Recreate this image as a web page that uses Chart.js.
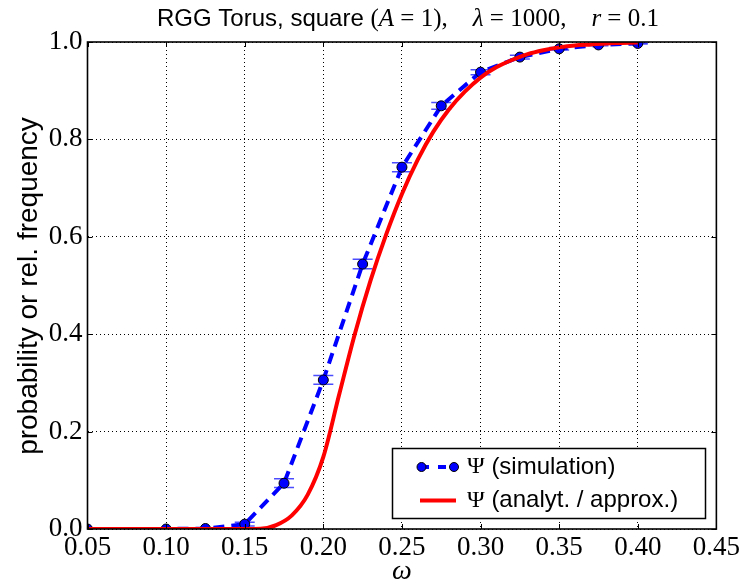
<!DOCTYPE html>
<html>
<head>
<meta charset="utf-8">
<script src="https://cdn.jsdelivr.net/npm/chart.js@4.4.0/dist/chart.umd.min.js"></script>
<style>
  html, body { margin: 0; padding: 0; background: #fff; }
  #wrap { width: 743px; height: 585px; }
</style>
</head>
<body>
<div id="wrap"><canvas id="c" width="743" height="585"></canvas></div>
<script>
// ---- data ----
const omegaSim = [0.05, 0.10, 0.125, 0.15, 0.175, 0.20, 0.225, 0.25, 0.275, 0.30, 0.325, 0.35, 0.375, 0.40];
const psiSim   = [0.0, 0.0, 0.001, 0.010, 0.094, 0.306, 0.544, 0.743, 0.869, 0.938, 0.969, 0.986, 0.994, 0.997];
const psiSimErr = [0.0, 0.0, 0.001, 0.004, 0.009, 0.009, 0.0097, 0.0093, 0.007, 0.005, 0.004, 0.0025, 0.0015, 0.001];

const omegaAnalyt = [0.05, 0.10, 0.15, 0.16, 0.17, 0.18, 0.19, 0.20, 0.21, 0.22, 0.23, 0.24, 0.25, 0.26, 0.27, 0.28, 0.29, 0.30, 0.31, 0.32, 0.33, 0.34, 0.35, 0.36, 0.37, 0.38, 0.39, 0.40];
const psiAnalyt   = [0.0, 0.0, 0.0, 0.0005, 0.008, 0.028, 0.07, 0.148, 0.275, 0.40, 0.51, 0.605, 0.688, 0.758, 0.816, 0.862, 0.898, 0.927, 0.948, 0.963, 0.975, 0.983, 0.989, 0.993, 0.995, 0.997, 0.998, 0.999];

const xTickLabels = ['0.05', '0.10', '0.15', '0.20', '0.25', '0.30', '0.35', '0.40', '0.45'];
const yTickLabels = ['0.0', '0.2', '0.4', '0.6', '0.8', '1.0'];

const titleParts = [
  ['RGG Torus, square ', 'sans'],
  ['(', 'serif'], ['A', 'ital'], [' = 1),    ', 'serif'],
  ['λ', 'ital'], [' = 1000,    ', 'serif'],
  ['r', 'ital'], [' = 0.1', 'serif']
];
const legendItems = ['(simulation)', '(analyt. / approx.)'];
const yAxisTitle = 'probability or rel. frequency';
const xAxisTitle = 'ω';

const simPts = omegaSim.map((x, i) => ({x: x, y: psiSim[i]}));
const anPts = omegaAnalyt.map((x, i) => ({x: x, y: psiAnalyt[i]}));

const SERIF = '"Liberation Serif", "DejaVu Serif", serif';
const SANS = '"Liberation Sans", Arial, sans-serif';

const fontFor = (kind, size) => kind === 'sans' ? `${size}px ${SANS}` : kind === 'ital' ? `italic ${size}px ${SERIF}` : `${size}px ${SERIF}`;

const decor = {
  id: 'decor',
  beforeDatasetsDraw(chart) {
    const ctx = chart.ctx, xs = chart.scales.x, ys = chart.scales.y, a = chart.chartArea;
    ctx.save();
    ctx.beginPath(); ctx.rect(a.left, a.top, a.right - a.left, a.bottom - a.top); ctx.clip();
    ctx.strokeStyle = 'rgba(0,0,255,0.7)';
    ctx.lineWidth = 1.5;
    omegaSim.forEach((w, i) => {
      const px = xs.getPixelForValue(w);
      const e = psiSimErr[i];
      [psiSim[i] - e, psiSim[i] + e].forEach(v => {
        const py = ys.getPixelForValue(v);
        ctx.beginPath(); ctx.moveTo(px - 10, py); ctx.lineTo(px + 10, py); ctx.stroke();
      });
      ctx.beginPath();
      ctx.moveTo(px, ys.getPixelForValue(psiSim[i] - e));
      ctx.lineTo(px, ys.getPixelForValue(psiSim[i] + e));
      ctx.stroke();
    });
    ctx.restore();
  },
  afterDraw(chart) {
    const ctx = chart.ctx, xs = chart.scales.x, ys = chart.scales.y, a = chart.chartArea;
    ctx.save();
    // inward ticks
    ctx.strokeStyle = '#000'; ctx.lineWidth = 1;
    xs.ticks.forEach(t => {
      const px = Math.round(xs.getPixelForValue(t.value)) + 0.5;
      ctx.beginPath(); ctx.moveTo(px, a.bottom); ctx.lineTo(px, a.bottom - 5);
      ctx.moveTo(px, a.top); ctx.lineTo(px, a.top + 5); ctx.stroke();
    });
    ys.ticks.forEach(t => {
      const py = Math.round(ys.getPixelForValue(t.value)) + 0.5;
      ctx.beginPath(); ctx.moveTo(a.left, py); ctx.lineTo(a.left + 5, py);
      ctx.moveTo(a.right, py); ctx.lineTo(a.right - 5, py); ctx.stroke();
    });
    // frame
    ctx.lineWidth = 1.6;
    ctx.strokeRect(a.left, a.top, a.right - a.left, a.bottom - a.top);

    // title
    ctx.fillStyle = '#000';
    ctx.textBaseline = 'alphabetic';
    ctx.textAlign = 'left';
    let total = 0;
    const sizes = {sans: 24, serif: 25, ital: 25};
    titleParts.forEach(p => { ctx.font = fontFor(p[1], sizes[p[1]]); total += ctx.measureText(p[0]).width; });
    let tx = 408 - total / 2;
    titleParts.forEach(p => { ctx.font = fontFor(p[1], sizes[p[1]]); ctx.fillText(p[0], tx, 26); tx += ctx.measureText(p[0]).width; });

    // axis titles
    ctx.font = `28px ${SANS}`;
    ctx.textAlign = 'center'; ctx.textBaseline = 'middle';
    ctx.save();
    ctx.translate(29, 286); ctx.rotate(-Math.PI / 2);
    ctx.fillText(yAxisTitle, 0, 0);
    ctx.restore();
    ctx.font = `italic 28px ${SERIF}`;
    ctx.fillText(xAxisTitle, (a.left + a.right) / 2, 572);

    // legend
    const L = 392.5, T = 448.5, W = 313, H = 70;
    ctx.fillStyle = '#fff'; ctx.fillRect(L, T, W, H);
    ctx.strokeStyle = '#000'; ctx.lineWidth = 1.5; ctx.strokeRect(L, T, W, H);
    const y1 = 467, y2 = 500.5;
    ctx.strokeStyle = '#0000ff'; ctx.lineWidth = 4; ctx.setLineDash([8, 9]);
    ctx.beginPath(); ctx.moveTo(421, y1); ctx.lineTo(455, y1); ctx.stroke();
    ctx.setLineDash([]);
    ctx.fillStyle = '#0000ff'; ctx.strokeStyle = '#000'; ctx.lineWidth = 1;
    [421.5, 454].forEach(cx => { ctx.beginPath(); ctx.arc(cx, y1, 4.5, 0, Math.PI * 2); ctx.fill(); ctx.stroke(); });
    ctx.strokeStyle = '#ff0000'; ctx.lineWidth = 4;
    ctx.beginPath(); ctx.moveTo(420, y2); ctx.lineTo(456, y2); ctx.stroke();
    ctx.fillStyle = '#000'; ctx.textAlign = 'left'; ctx.textBaseline = 'middle';
    [[legendItems[0], y1], [legendItems[1], y2]].forEach(([txt, yy]) => {
      ctx.font = `24px ${SERIF}`;
      ctx.fillText('Ψ', 467, yy);
      const w = ctx.measureText('Ψ').width;
      ctx.font = `24px ${SANS}`;
      ctx.fillText(' ' + txt, 467 + w, yy);
    });
    ctx.restore();
  }
};

new Chart(document.getElementById('c'), {
  type: 'scatter',
  plugins: [decor],
  data: {
    datasets: [
      {
        label: 'Ψ (simulation)',
        data: simPts,
        showLine: true,
        borderColor: '#0000ff',
        borderWidth: 4,
        borderDash: [11, 7],
        pointRadius: 5,
        pointBackgroundColor: '#0000ff',
        pointBorderColor: '#000',
        pointBorderWidth: 1,
        tension: 0,
        clip: 0,
        order: 1
      },
      {
        label: 'Ψ (analyt. / approx.)',
        data: anPts,
        showLine: true,
        borderColor: '#ff0000',
        borderWidth: 4,
        pointRadius: 0,
        cubicInterpolationMode: 'monotone',
        clip: 0,
        order: 0
      }
    ]
  },
  options: {
    responsive: false,
    animation: false,
    events: [],
    layout: { padding: { top: 42, right: 23, left: 0, bottom: 0 } },
    plugins: { legend: { display: false }, tooltip: { enabled: false }, title: { display: false } },
    scales: {
      x: {
        type: 'linear', min: 0.05, max: 0.45,
        afterBuildTicks: s => { s.ticks = xTickLabels.map(v => ({value: parseFloat(v)})); },
        afterFit: s => { s.height = 56; },
        ticks: {
          callback: (v) => xTickLabels.find(l => Math.abs(parseFloat(l) - v) < 1e-9) || '',
          font: { family: SERIF, size: 27 }, color: '#000', padding: 3, maxRotation: 0, autoSkip: false
        },
        grid: { color: '#000', lineWidth: 1, drawTicks: false },
        border: { display: false, dash: [1, 3] }
      },
      y: {
        type: 'linear', min: 0, max: 1,
        afterBuildTicks: s => { s.ticks = yTickLabels.map(v => ({value: parseFloat(v)})); },
        afterFit: s => { s.width = 87.5; },
        ticks: {
          callback: (v) => yTickLabels.find(l => Math.abs(parseFloat(l) - v) < 1e-9) || '',
          font: { family: SERIF, size: 27 }, color: '#000', padding: 5, autoSkip: false
        },
        grid: { color: '#000', lineWidth: 1, drawTicks: false },
        border: { display: false, dash: [1, 3] }
      }
    }
  }
});
</script>
</body>
</html>
